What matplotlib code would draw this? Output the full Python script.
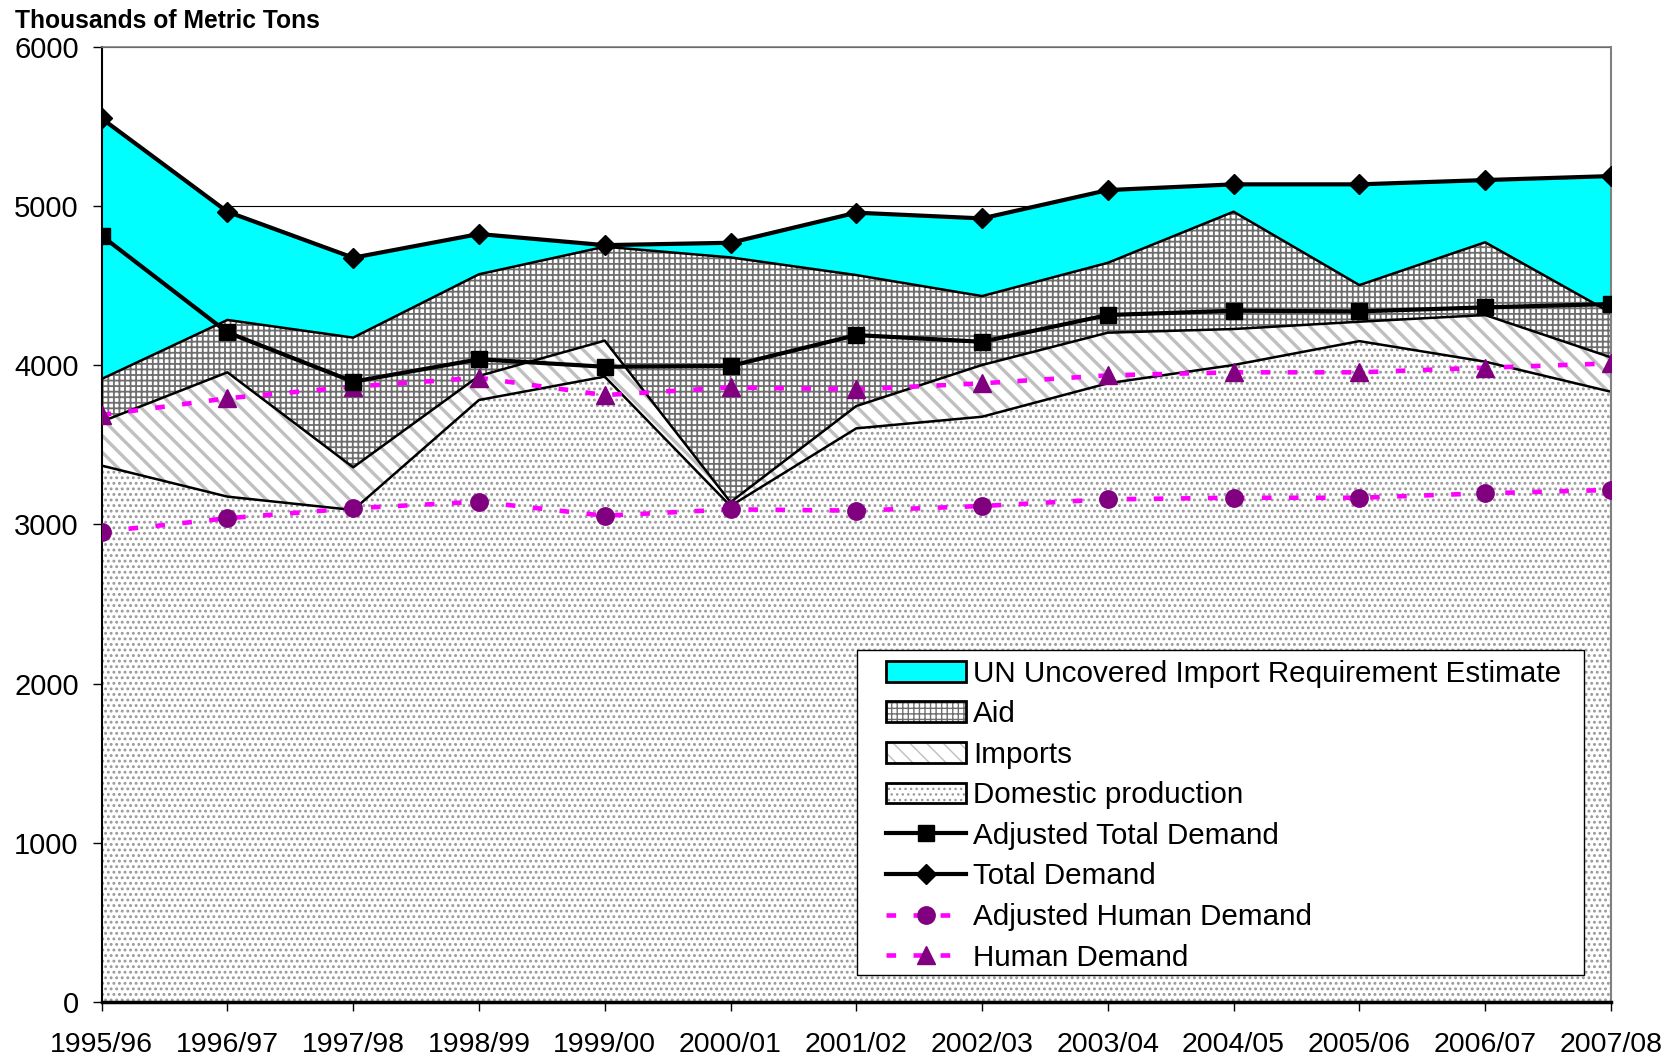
import matplotlib
matplotlib.use("Agg")
import matplotlib.pyplot as plt
import numpy as np
from matplotlib.patches import Patch, Rectangle
from matplotlib.lines import Line2D
from matplotlib.legend_handler import HandlerTuple

plt.rcParams["font.family"] = ["Liberation Sans", "DejaVu Sans"]

# ── Data (thousands of metric tons) ──────────────────────────────────────────
YEARS = ["1995/96", "1996/97", "1997/98", "1998/99", "1999/00", "2000/01", "2001/02",
         "2002/03", "2003/04", "2004/05", "2005/06", "2006/07", "2007/08"]
domestic = [3370, 3175, 3091, 3782, 3929, 3116, 3604, 3677, 3887, 4002, 4152, 4023, 3834]
imports = [276, 781, 268, 151, 226, 24, 140, 325, 318, 226, 122, 293, 216]
aid = [268, 329, 815, 639, 590, 1538, 823, 433, 439, 737, 230, 457, 280]
un_uncovered = [1637, 680, 502, 253, 10, 92, 392, 488, 457, 172, 633, 391, 859]
total_demand = [5551, 4965, 4676, 4825, 4755, 4770, 4959, 4923, 5101, 5137, 5137, 5164, 5189]
adj_total_demand = [4814, 4207, 3897, 4038, 3991, 3996, 4190, 4148, 4316, 4343, 4339, 4364, 4385]
human_demand = [3688, 3793, 3866, 3922, 3813, 3861, 3849, 3887, 3937, 3956, 3956, 3985, 4012]
adj_human_demand = [2955, 3039, 3102, 3143, 3055, 3095, 3087, 3116, 3158, 3168, 3168, 3196, 3217]

CYAN = "#00FFFF"
PURPLE = "#800080"
MAGENTA = "#FF00FF"
DOT_GRAY = "#999999"
DIAG_GRAY = "#bfbfbf"
GRID_GRAY = "#6e6e6e"
DASH = (0, (2.1, 3.8))
DASH_LW = 3.3

x = np.arange(len(YEARS))
lvl1 = np.array(domestic)
lvl2 = lvl1 + np.array(imports)
lvl3 = lvl2 + np.array(aid)
lvl4 = lvl3 + np.array(un_uncovered)

fig = plt.figure(figsize=(16.77, 10.63), dpi=100)
ax = fig.add_axes([0.0606, 0.0574, 0.9, 0.8984])

# ── Stacked areas ────────────────────────────────────────────────────────────
with plt.rc_context({"hatch.linewidth": 1.3}):
    ax.fill_between(x, 0, lvl1, facecolor="white", edgecolor=DOT_GRAY,
                    hatch="...", linewidth=0, zorder=1)
with plt.rc_context({"hatch.linewidth": 2.4}):
    ax.fill_between(x, lvl1, lvl2, facecolor="white", edgecolor=DIAG_GRAY,
                    hatch="\\\\", linewidth=0, zorder=1)
with plt.rc_context({"hatch.linewidth": 1.3}):
    ax.fill_between(x, lvl2, lvl3, facecolor="white", edgecolor=GRID_GRAY,
                    hatch="+++", linewidth=0, zorder=1)
ax.fill_between(x, lvl3, lvl4, facecolor=CYAN, edgecolor="none", zorder=1)

for lvl in (lvl1, lvl2, lvl3):
    ax.plot(x, lvl, color="black", lw=1.8, zorder=2)

# ── Demand lines ─────────────────────────────────────────────────────────────
ax.plot(x, adj_human_demand, color=MAGENTA, lw=DASH_LW, linestyle=DASH,
        marker="o", ms=12.5, mfc=PURPLE, mec=PURPLE, zorder=3)
ax.plot(x, human_demand, color=MAGENTA, lw=DASH_LW, linestyle=DASH,
        marker="^", ms=13, mfc=PURPLE, mec=PURPLE, zorder=3)
ax.plot(x, adj_total_demand, color="black", lw=3, marker="s", ms=11.5, zorder=4)
ax.plot(x, total_demand, color="black", lw=3, marker="D", ms=10, zorder=4)

# ── Axes styling ─────────────────────────────────────────────────────────────
ax.set_xlim(0, len(YEARS) - 1)
ax.set_ylim(0, 6000)
ax.set_yticks(range(0, 6001, 1000))
ax.set_xticks(x)
ax.set_xticklabels(YEARS)
ax.set_axisbelow(True)
ax.grid(axis="y", color="black", lw=0.8)
ax.tick_params(axis="y", direction="out", length=6.5, width=1, pad=10, labelsize=21)
ax.tick_params(axis="x", direction="out", length=6.5, width=1, pad=15, labelsize=20.5)
ax.spines["left"].set_linewidth(1.5)
ax.spines["bottom"].set_linewidth(2.5)
ax.spines["top"].set_color("#808080")
ax.spines["top"].set_linewidth(1.2)
ax.spines["right"].set_color("#808080")
ax.spines["right"].set_linewidth(1.5)

fig.text(0.009, 0.992, "Thousands of Metric Tons", fontsize=17.7,
         fontweight="bold", va="top", ha="left")

# ── Legend (frame drawn separately for exact box) ────────────────────────────
ax.add_patch(Rectangle((0.5006, 0.0284), 0.4817, 0.3403, transform=ax.transAxes,
                       facecolor="white", edgecolor="black", lw=1.0, zorder=9))

edge = dict(facecolor="none", edgecolor="black", linewidth=2)
handles = [
    (Patch(facecolor=CYAN, edgecolor="none"), Patch(**edge)),
    (Patch(facecolor="white", edgecolor=GRID_GRAY, hatch="+++", linewidth=0), Patch(**edge)),
    (Patch(facecolor="white", edgecolor=DIAG_GRAY, hatch="\\\\", linewidth=0), Patch(**edge)),
    (Patch(facecolor="white", edgecolor=DOT_GRAY, hatch="...", linewidth=0), Patch(**edge)),
    Line2D([], [], color="black", lw=3, marker="s", ms=11.5),
    Line2D([], [], color="black", lw=3, marker="D", ms=10),
    Line2D([], [], color=MAGENTA, lw=DASH_LW, linestyle=DASH,
           marker="o", ms=12.5, mfc=PURPLE, mec=PURPLE),
    Line2D([], [], color=MAGENTA, lw=DASH_LW, linestyle=DASH,
           marker="^", ms=13, mfc=PURPLE, mec=PURPLE),
]
labels = ["UN Uncovered Import Requirement Estimate", "Aid", "Imports",
          "Domestic production", "Adjusted Total Demand", "Total Demand",
          "Adjusted Human Demand", "Human Demand"]
leg = ax.legend(handles, labels, loc="upper left", bbox_to_anchor=(0.5198, 0.3586),
                borderaxespad=0, borderpad=0, fontsize=21.3, frameon=False,
                handlelength=2.7, handletextpad=0.24, labelspacing=0.425,
                handler_map={tuple: HandlerTuple(ndivide=1, pad=0)})
leg.set_zorder(10)

fig.savefig("out.png", dpi=100)
